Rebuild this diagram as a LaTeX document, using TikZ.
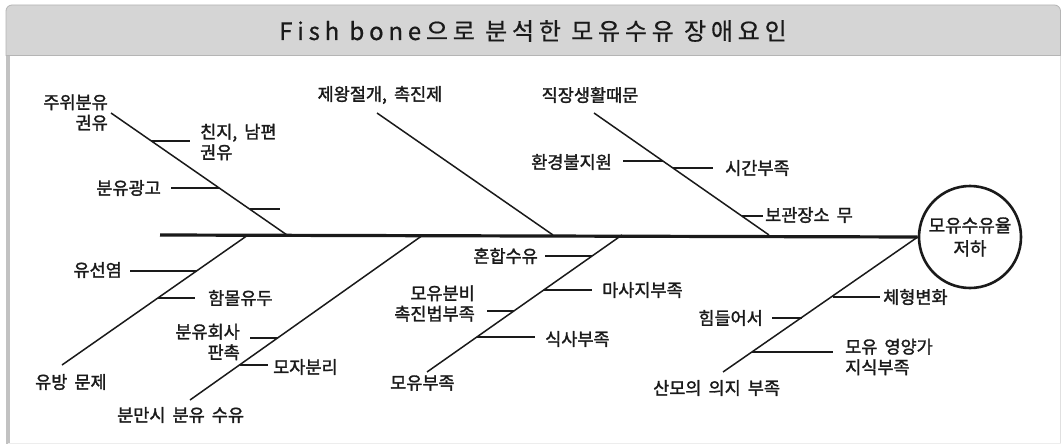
\documentclass[tikz,border=0pt]{standalone}
\usepackage{fontspec}
\setmainfont{Noto Sans CJK KR}
\newfontfamily\krfont[FakeBold=1.6,WordSpace=1.8]{Noto Sans CJK KR}
\newfontfamily\titlefont[LetterSpace=20,FakeBold=0.6]{Noto Sans CJK KR}
\definecolor{hdr}{HTML}{D5D5D5}
\definecolor{hdrline}{HTML}{B5B5B5}
\definecolor{frm}{HTML}{C2C2C2}
\definecolor{ink}{HTML}{1A1A1A}
\begin{document}
\begin{tikzpicture}[x=1pt,y=-1pt,
  lbl/.style={inner sep=0pt, text=ink, font=\krfont\fontsize{17.5}{20.5}\selectfont},
  spine/.style={draw=ink, line width=3.2pt},
  bone/.style={draw=ink, line width=1.5pt},
  twig/.style={draw=ink, line width=1.5pt},
  goalnode/.style={circle, draw=ink, line width=2.6pt, minimum size=102pt, inner sep=0pt, align=center, text=ink, font=\krfont\fontsize{18}{23}\selectfont}
]
\useasboundingbox (0,0) rectangle (1062,444);
\fill[white] (0,0) rectangle (1062,444);
% frame
\draw[line width=3.5pt, frm] (8,30) -- (8,444);
\draw[line width=1pt, black!12] (1060.5,30) -- (1060.5,444);
\draw[line width=1pt, black!7] (8,443.5) -- (1060.5,443.5);
\filldraw[fill=hdr, draw=hdrline, line width=0.8pt, rounded corners=6pt] (6,56) -- (6,5) -- (1060.5,5) -- (1060.5,56);
\draw[hdrline, line width=1.6pt] (6,55.5) -- (1060.5,55.5);
\node[inner sep=0pt, text=ink, font=\titlefont\fontsize{24}{26}\selectfont] (title) at (533,31) {Fish bone으로 분석한 모유수유 장애요인};

% goal
\node[goalnode] (goal) at (970,237) {모유수유율\\저하};
\coordinate (tail) at (160,235);
\draw[spine] (tail) -- (goal.west);

% upper bone A
\coordinate (a0) at (111,113); \coordinate (a1) at (287,235);
\draw[bone] (a0) -- (a1);
\coordinate (a2) at (151,141); \coordinate (a2e) at (190,141);
\coordinate (a3) at (219,188); \coordinate (a3e) at (171,188);
\coordinate (a4) at (250,209); \coordinate (a4e) at (280,209);
\draw[twig] (a2) -- (a2e);
\draw[twig] (a3e) -- (a3);
\draw[twig] (a4) -- (a4e);
\node[lbl, anchor=east, align=right] (la0) at (108,112.5) {주위분유\\권유};
\node[lbl, anchor=west, align=left] (la2) at (200,142) {친지, 남편\\권유};
\node[lbl, anchor=east] (la3) at (161,188) {분유광고};

% upper bone B
\coordinate (b0) at (377,113); \coordinate (b1) at (553,235);
\draw[bone] (b0) -- (b1);
\node[lbl] (lb0) at (380,95) {제왕절개, 촉진제};

% upper bone C
\coordinate (c0) at (594,113); \coordinate (c1) at (769,235);
\draw[bone] (c0) -- (c1);
\coordinate (c2) at (663,161); \coordinate (c2e) at (623,161);
\coordinate (c3) at (673,168); \coordinate (c3e) at (713,168);
\coordinate (c4) at (742,216); \coordinate (c4e) at (763,216);
\draw[twig] (c2e) -- (c2);
\draw[twig] (c3) -- (c3e);
\draw[twig] (c4) -- (c4e);
\node[lbl] (lc0) at (590,95) {직장생활때문};
\node[lbl, anchor=east] (lc2) at (612,162) {환경불지원};
\node[lbl, anchor=west] (lc3) at (725,168) {시간부족};
\node[lbl, anchor=west] (lc4) at (765,215) {보관장소 무};

% lower bone D
\coordinate (d0) at (62,365); \coordinate (d1) at (248,235);
\draw[bone] (d0) -- (d1);
\coordinate (d2) at (197,271); \coordinate (d2e) at (130,271);
\coordinate (d3) at (158,298); \coordinate (d3e) at (195,298);
\draw[twig] (d2e) -- (d2);
\draw[twig] (d3) -- (d3e);
\node[lbl, anchor=west] (ld0) at (35,382) {유방 문제};
\node[lbl, anchor=east] (ld2) at (122,270) {유선염};
\node[lbl, anchor=west] (ld3) at (208,298) {함몰유두};

% lower bone E
\coordinate (e0) at (190,400); \coordinate (e1) at (423,235);
\draw[bone] (e0) -- (e1);
\coordinate (e2) at (278,338); \coordinate (e2e) at (250,338);
\coordinate (e3) at (240,365); \coordinate (e3e) at (268,365);
\draw[twig] (e2e) -- (e2);
\draw[twig] (e3) -- (e3e);
\node[lbl, anchor=west] (le0) at (117,415) {분만시 분유 수유};
\node[lbl, anchor=east, align=right] (le2) at (240,342) {분유회사\\판촉};
\node[lbl, anchor=west] (le3) at (273,367) {모자분리};

% lower bone F
\coordinate (f0) at (427,372); \coordinate (f1) at (622,235);
\draw[bone] (f0) -- (f1);
\coordinate (f2) at (592,256); \coordinate (f2e) at (545,256);
\coordinate (f3) at (544,290); \coordinate (f3e) at (592,290);
\coordinate (f4) at (514,311); \coordinate (f4e) at (487,311);
\coordinate (f5) at (477,337); \coordinate (f5e) at (535,337);
\draw[twig] (f2e) -- (f2);
\draw[twig] (f3) -- (f3e);
\draw[twig] (f4e) -- (f4);
\draw[twig] (f5) -- (f5e);
\node[lbl, anchor=west] (lf0) at (390,383) {모유부족};
\node[lbl, anchor=east] (lf2) at (538,256) {혼합수유};
\node[lbl, anchor=west] (lf3) at (602,290) {마사지부족};
\node[lbl, anchor=east, align=right] (lf4) at (475,303.5) {모유분비\\촉진법부족};
\node[lbl, anchor=west] (lf5) at (545,339) {식사부족};

% lower bone G
\coordinate (g0) at (723,372);
\draw[bone] (g0) -- (goal.west);
\coordinate (g2) at (833,297); \coordinate (g2e) at (880,297);
\coordinate (g3) at (802,318); \coordinate (g3e) at (772,318);
\coordinate (g4) at (752,352); \coordinate (g4e) at (833,352);
\draw[twig] (g2) -- (g2e);
\draw[twig] (g3e) -- (g3);
\draw[twig] (g4) -- (g4e);
\node[lbl, anchor=west] (lg0) at (653,388) {산모의 의지 부족};
\node[lbl, anchor=west] (lg2) at (883,297) {체형변화};
\node[lbl, anchor=east] (lg3) at (763,318) {힘들어서};
\node[lbl, anchor=west, align=left] (lg4) at (845,357) {모유 영양가\\지식부족};
\end{tikzpicture}
\end{document}
